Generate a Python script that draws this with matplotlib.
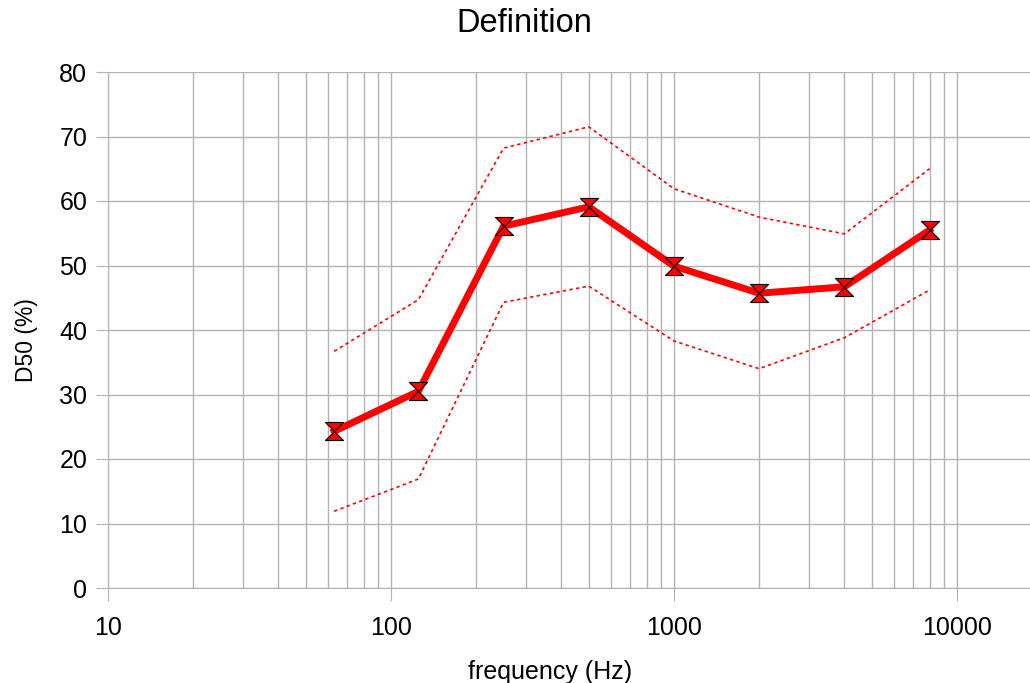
import matplotlib.pyplot as plt
from matplotlib.path import Path
from matplotlib.ticker import LogLocator, FixedLocator, FixedFormatter

plt.rcParams['font.family'] = ['Liberation Sans', 'DejaVu Sans']

freqs = [63, 125, 250, 500, 1000, 2000, 4000, 8000]
d50 = [24.3, 30.5, 56.1, 59.1, 49.9, 45.7, 46.7, 55.5]
d50_upper = [36.7, 44.7, 68.2, 71.5, 61.9, 57.5, 54.9, 65.0]
d50_lower = [11.9, 16.9, 44.3, 46.8, 38.3, 34.0, 38.8, 46.2]

x_ticks = [10, 100, 1000, 10000]
x_labels = ['10', '100', '1000', '10000']
y_ticks = list(range(0, 81, 10))

W, H = 1030, 683

# hourglass marker
hourglass = Path([(-1, 1), (1, 1), (-1, -1), (1, -1), (-1, 1)],
                 [Path.MOVETO, Path.LINETO, Path.LINETO, Path.LINETO, Path.CLOSEPOLY])

fig = plt.figure(figsize=(W / 100, H / 100), dpi=100)
ax = fig.add_axes([108 / W, 1 - 588 / H, 1 - 108 / W, (588 - 72) / H])

grid_col = '#b3b3b3'
ax.plot(freqs, d50_upper, color='red', lw=1.2, ls=(0, (2, 2)), zorder=3)
ax.plot(freqs, d50_lower, color='red', lw=1.2, ls=(0, (2, 2)), zorder=3)
ax.plot(freqs, d50, color='red', lw=5, marker=hourglass, markersize=13,
        markerfacecolor='red', markeredgecolor='black', markeredgewidth=0.8, zorder=4)

ax.set_xscale('log')
ax.set_xlim(10, 10 ** (1 + (W - 108) / 283))
ax.set_ylim(0, 80)
ax.xaxis.set_major_locator(FixedLocator(x_ticks))
ax.xaxis.set_major_formatter(FixedFormatter(x_labels))
ax.xaxis.set_minor_locator(LogLocator(base=10, subs=range(2, 10)))
ax.set_yticks(y_ticks)

ax.grid(True, which='major', color=grid_col, lw=1)
ax.grid(True, which='minor', axis='x', color=grid_col, lw=1)
ax.set_axisbelow(True)
ax.tick_params(axis='both', which='major', length=9, color=grid_col, labelsize=18, pad=6)
ax.tick_params(axis='x', which='minor', length=0)
ax.tick_params(axis='x', which='major', pad=11)

for s in ['top', 'right']:
    ax.spines[s].set_visible(False)
for s in ['left', 'bottom']:
    ax.spines[s].set_color(grid_col)

# titles placed like the original layout
fig.text(524 / W, 1 - 32 / H, 'Definition', fontsize=23.5, ha='center', va='baseline')
fig.text(550 / W, 1 - 679 / H, 'frequency (Hz)', fontsize=18, ha='center', va='baseline')
fig.text(26 / W, 1 - 340 / H, 'D50 (%)', fontsize=16.5, rotation=90, ha='center', va='center')

fig.savefig('out.png', dpi=100)
